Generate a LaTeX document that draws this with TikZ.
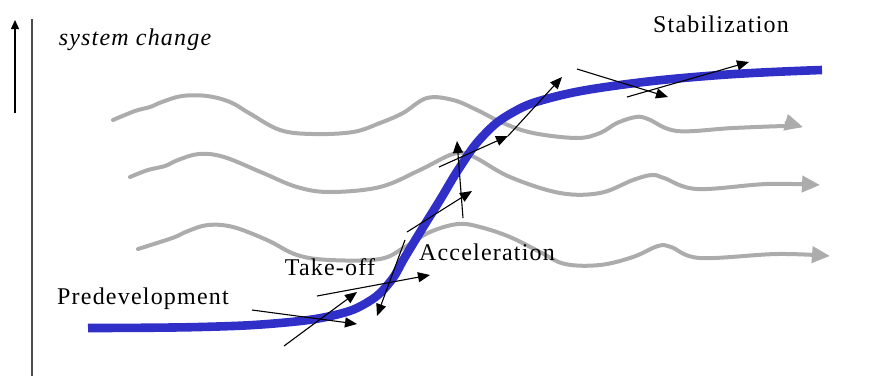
\documentclass[tikz,border=0pt]{standalone}
\usepackage{fontspec}
\setmainfont{Liberation Serif}[LetterSpace=5]
\usepackage{tikz}
\usetikzlibrary{arrows.meta}
\usepackage{xcolor}
\definecolor{curveblue}{RGB}{48,48,200}
\definecolor{wavegray}{RGB}{172,172,172}

\begin{document}
\begin{tikzpicture}[x=0.5pt, y=-0.5pt,
    wave/.style={wavegray, line width=2pt, line cap=round, -{Triangle[length=9pt, width=8pt]}},
    scurve/.style={curveblue, line width=4.3pt},
    trend/.style={black, line width=0.55pt, -{Triangle[length=6pt, width=5pt]}},
    phase/.style={inner sep=0pt, font=\fontsize{12}{14}\selectfont}]
    \useasboundingbox (0,0) rectangle (869,376);

    % vertical axis
    \draw[black!70, line width=0.7pt] (32,19) -- (32,376);
    \draw[black, line width=0.6pt, -{Triangle[length=4.5pt, width=4pt]}] (15,113) -- (15,20);
    \node[phase, font=\fontsize{12}{14}\selectfont\itshape] (ylabel) at (135,40) {system change};

    % gray waves
    \draw[wave] plot[smooth, tension=0.6] coordinates {
        (113,120) (135,111) (150,107) (162,102) (182,96) (207,96) (230,102)
        (249,113) (280,130) (313,134) (353,132) (380,123) (403,113) (427,98)
        (453,100) (477,110) (503,123) (533,133) (577,138) (600,133) (617,123)
        (636,117) (648,119) (677,131) (733,128) (787,126) (803,127)};
    \draw[wave] plot[smooth, tension=0.6] coordinates {
        (130,177) (148,170) (165,166) (178,160) (199,154) (224,157) (263,173)
        (297,187) (330,192) (380,187) (420,170) (453,154) (472,156) (510,177)
        (560,193) (600,193) (633,180) (652,175) (664,178) (697,189) (767,184)
        (820,185)};
    \draw[wave] plot[smooth, tension=0.6] coordinates {
        (138,249) (157,243) (175,237) (188,231) (208,225) (233,227) (267,240)
        (297,255) (330,260) (380,259) (405,247) (430,232) (458,224) (480,227)
        (510,237) (540,252) (565,264) (600,265) (633,257) (658,246) (671,247)
        (700,258) (777,254) (830,256)};

    % S-curve
    \draw[scurve] plot[smooth, tension=0.7] coordinates {
        (88,328) (200,327) (280,323) (335,315) (368,302) (390,282) (405,257)
        (422,229) (440,200) (460,167) (482,137) (510,114) (550,98) (620,85)
        (720,75) (822,70)};

    % driving forces
    \foreach \xa/\ya/\xb/\yb in {252/310/357/324, 284/346/357/292, 317/296/430/275,
        405/240/377/316, 407/232/472/191, 463/218/457/141, 439/167/508/136,
        508/136/562/77, 577/69/668/97, 627/97/749/62}
        \draw[trend] (\xa,\ya) -- (\xb,\yb);

    % phases
    \node[phase] (predev) at (143,299) {Predevelopment};
    \node[phase] (takeoff) at (330,267) {Take-off};
    \node[phase] (accel) at (487,252) {Acceleration};
    \node[phase] (stab) at (721,24) {Stabilization};
\end{tikzpicture}
\end{document}
